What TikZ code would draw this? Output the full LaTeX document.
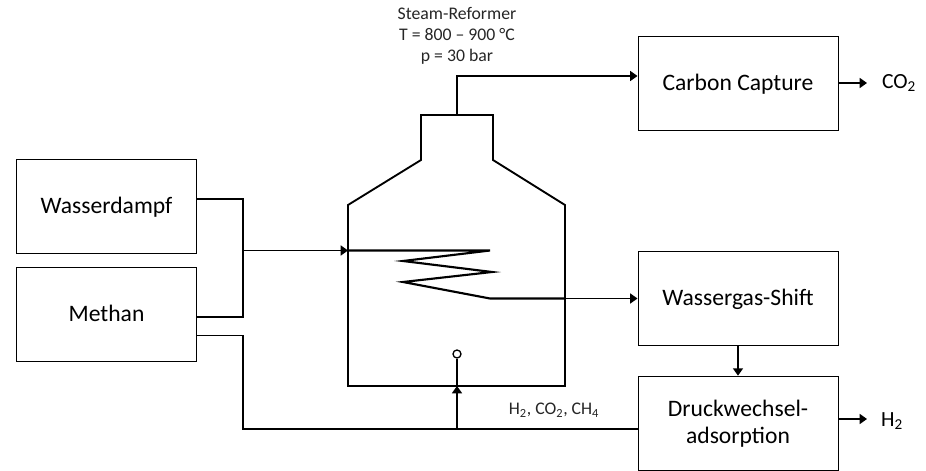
\documentclass[tikz,border=0pt]{standalone}
\usepackage{fontspec}
\setmainfont{Carlito}
\usetikzlibrary{arrows.meta}
\tikzstyle{box} = [draw, line width=0.75pt, minimum width=150pt, minimum height=71pt, inner sep=0pt, align=center, text height=13pt, text depth=2.5pt, font=\fontsize{17.7}{20.5}\selectfont]
\tikzstyle{srcbox} = [box, minimum width=135.5pt]
\tikzstyle{txt} = [inner sep=0pt, align=center, font=\fontsize{13.3}{15.75}\selectfont, text=black!85]
\tikzstyle{prod} = [inner sep=0pt, font=\fontsize{16.2}{19}\selectfont]
\tikzstyle{wall} = [line width=1.4pt, line join=miter]
\tikzstyle{pipe} = [line width=1.2pt, -{Triangle[length=5.5pt,width=7.5pt]}]
\tikzstyle{thin pipe} = [line width=0.85pt]
\begin{document}
\begin{tikzpicture}[x=0.75pt, y=-0.75pt]
  \useasboundingbox (0,0) rectangle (926,471);
  % boxes
  \node[srcbox] (dampf) at (106.5,206.5) {Wasserdampf};
  \node[srcbox] (methan) at (106.5,314.5) {Methan};
  \node[box] (capture) at (738,83.5) {Carbon Capture};
  \node[box] (shift) at (738,298.5) {Wassergas-Shift};
  \node[box, text height=, text depth=] (psa) at (738,423.5) {\raisebox{-2pt}{Druckwechsel-}\\\raisebox{-2pt}{adsorption}};
  % reformer
  \draw[wall] (348,386) -- (348,205) -- (421,160) -- (421,115) -- (493,115) -- (493,160) -- (565,205) -- (565,386) -- cycle;
  \coordinate (top) at (457,115);
  \coordinate (in) at (348,250.5);
  \coordinate (bottom) at (457,386);
  \node[circle, draw, line width=1pt, minimum size=6pt, inner sep=0pt] (burner) at (457,354) {};
  % coil
  \coordinate (coilout) at (490,298.5);
  \draw[wall, line width=1.6pt] (in) -- (490,250.5) -- (403,261) -- (492,272) -- (403,282) -- (coilout) -- (565,298.5);
  \draw[pipe, line width=1pt] (565,298.5) -- (shift.west |- coilout);
  % feeds
  \coordinate (join) at (243,250.5);
  \draw[thin pipe] (dampf.east |- 0,199) -| (join) |- (methan.east |- 0,317);
  \draw[pipe, line width=1.3pt] (join) -- (in);
  \draw[thin pipe] (methan.east |- 0,335.5) -| (243,429) -- (psa.west |- 0,429);
  \coordinate (tee) at (457,429);
  \draw[pipe] (tee) -- (bottom);
  \draw[line width=1.2pt] (bottom) -- (burner);
  % products
  \draw[pipe, line width=1pt] (top) -- (457,76) -- (capture.west |- 0,76);
  \draw[pipe] (shift.south) -- (psa.north);
  \node[prod] (co2) at (899,83) {CO\textsubscript{2}};
  \node[prod] (h2) at (892,421) {H\textsubscript{2}};
  \draw[pipe] (capture.east |- co2) -- (867,83);
  \draw[pipe] (psa.east |- 0,419) -- (867,419);
  % labels
  \node[txt] (reformer) at (457,35.5) {Steam-Reformer\\T = 800 -- 900 °C\\p = 30 bar};
  \node[txt] (gases) at (554,410) {H\textsubscript{2}, CO\textsubscript{2}, CH\textsubscript{4}};
\end{tikzpicture}
\end{document}
